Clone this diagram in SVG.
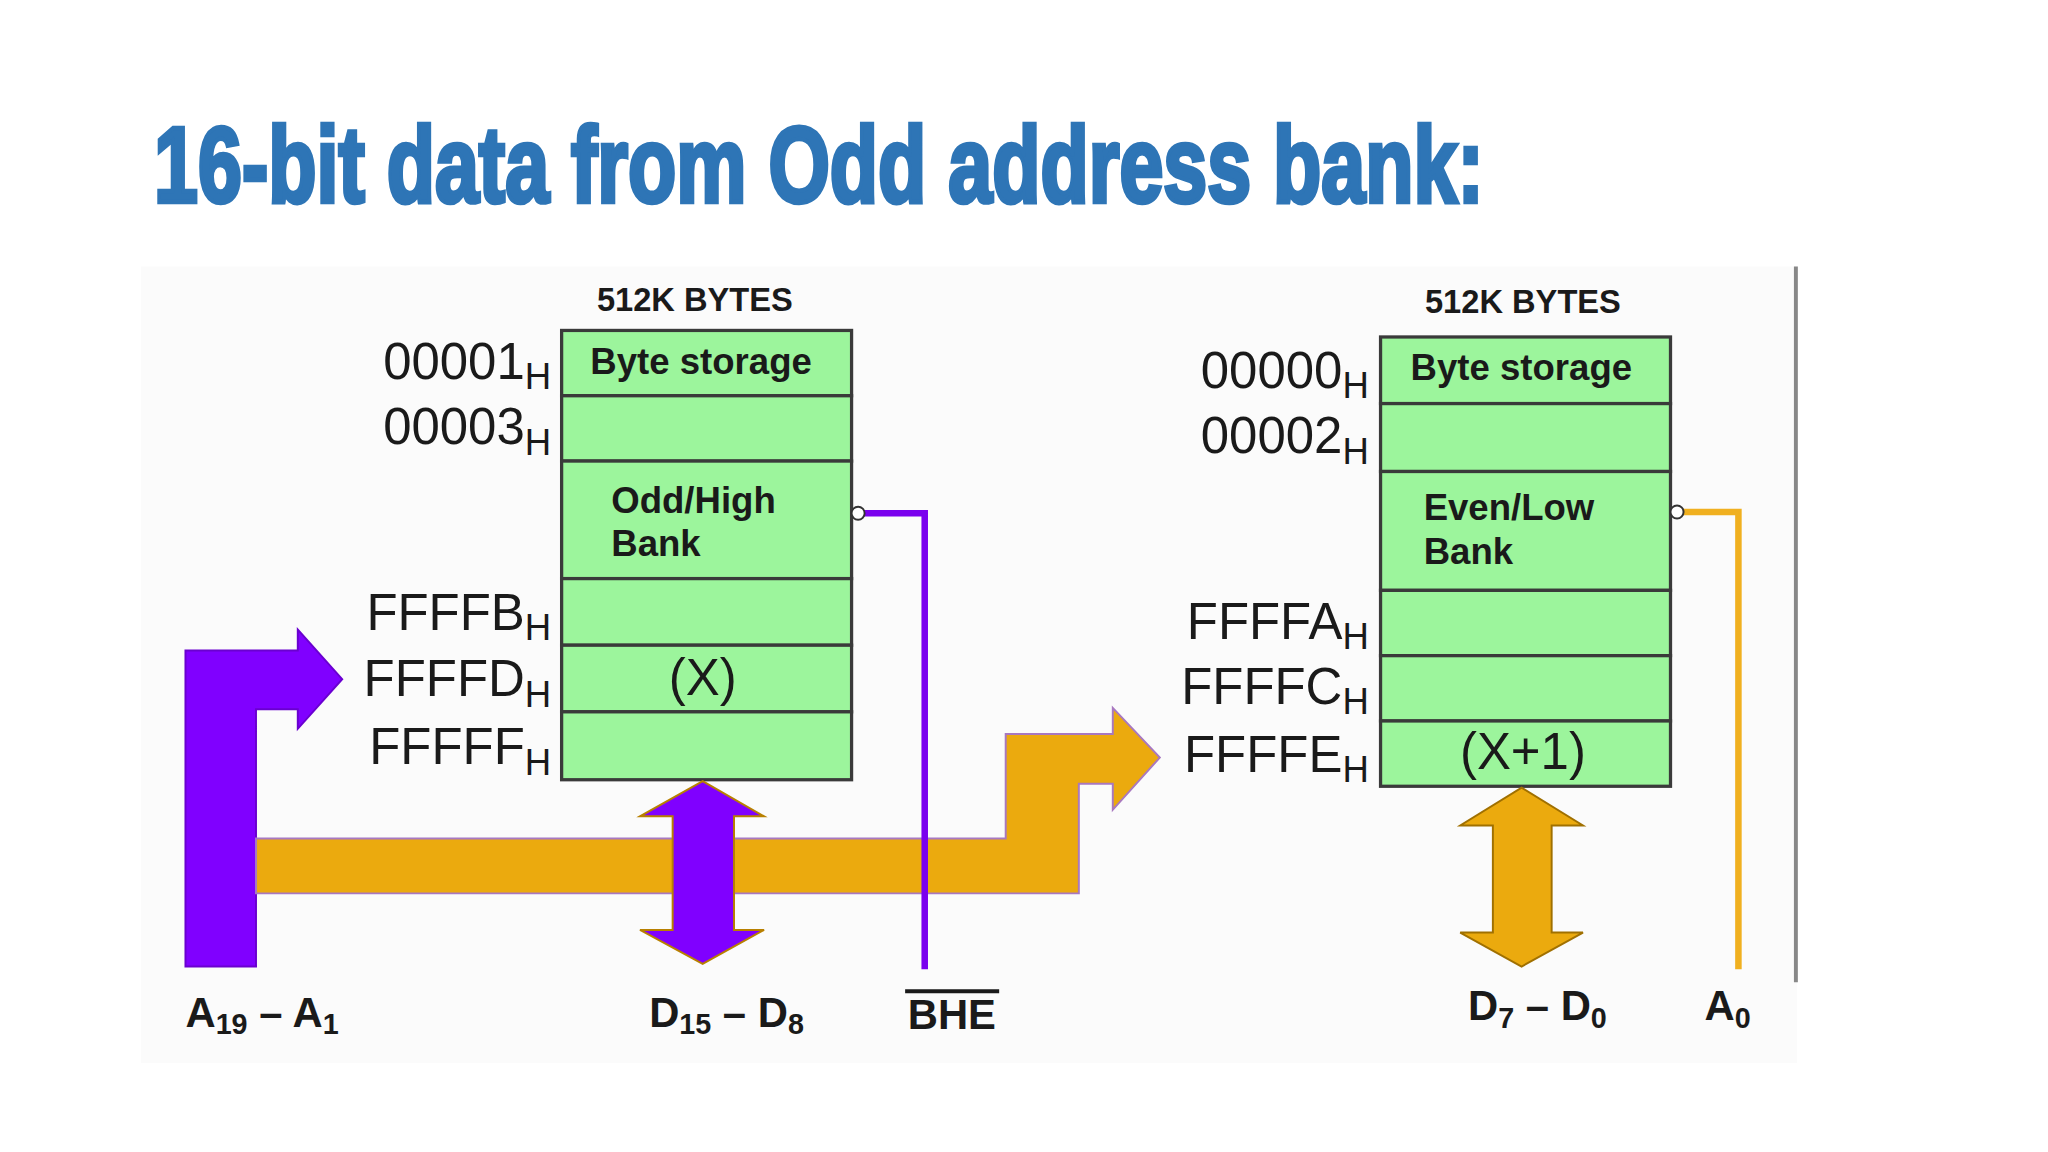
<svg xmlns="http://www.w3.org/2000/svg" width="2048" height="1152" viewBox="0 0 2048 1152">
<style>
.cell{fill:#9cf59c;stroke:#3a3a3a;stroke-width:2.5}
.t{font-family:"Liberation Sans",Arial,sans-serif;fill:#1a1a1a}
.hd{font-size:25px;font-weight:bold}
.ad{font-size:39px}
.ce{font-size:28px;font-weight:bold}
.bl{font-size:32px;font-weight:bold}
</style>
<rect width="2048" height="1152" fill="#ffffff"/>
<g transform="scale(1.3061)">
<text x="118" y="155" font-family="Liberation Sans,Arial,sans-serif" font-weight="bold" font-size="82" fill="#2E75B6" stroke="#2E75B6" stroke-width="3.5" textLength="1018" lengthAdjust="spacingAndGlyphs">16-bit data from Odd address bank:</text>
<rect x="108" y="204" width="1268" height="610" fill="#fbfbfb"/>
<line x1="1375" y1="204" x2="1375" y2="752" stroke="#888" stroke-width="3"/>
<g id="odd-bank">
<rect class="cell" x="430" y="253" width="222" height="50"/>
<rect class="cell" x="430" y="303" width="222" height="50"/>
<rect class="cell" x="430" y="353" width="222" height="90"/>
<rect class="cell" x="430" y="443" width="222" height="51"/>
<rect class="cell" x="430" y="494" width="222" height="51"/>
<rect class="cell" x="430" y="545" width="222" height="52"/>
<text class="t hd" x="532" y="238" text-anchor="middle">512K BYTES</text>
<text class="t ce" x="452" y="286">Byte storage</text>
<text class="t ce" x="468" y="393">Odd/High</text>
<text class="t ce" x="468" y="426">Bank</text>
<text class="t ad" x="538" y="532" text-anchor="middle">(X)</text>
<g class="t ad" text-anchor="end">
<text x="422" y="290">00001<tspan font-size="28" dy="8">H</tspan></text>
<text x="422" y="340">00003<tspan font-size="28" dy="8">H</tspan></text>
<text x="422" y="482">FFFFB<tspan font-size="28" dy="8">H</tspan></text>
<text x="422" y="533">FFFFD<tspan font-size="28" dy="8">H</tspan></text>
<text x="422" y="585">FFFFF<tspan font-size="28" dy="8">H</tspan></text>
</g>
</g>
<g id="even-bank">
<rect class="cell" x="1057" y="258" width="222" height="51"/>
<rect class="cell" x="1057" y="309" width="222" height="52"/>
<rect class="cell" x="1057" y="361" width="222" height="91"/>
<rect class="cell" x="1057" y="452" width="222" height="50"/>
<rect class="cell" x="1057" y="502" width="222" height="50"/>
<rect class="cell" x="1057" y="552" width="222" height="50"/>
<text class="t hd" x="1166" y="240" text-anchor="middle">512K BYTES</text>
<text class="t ce" x="1080" y="291">Byte storage</text>
<text class="t ce" x="1090" y="398">Even/Low</text>
<text class="t ce" x="1090" y="432">Bank</text>
<text class="t ad" x="1166" y="589" text-anchor="middle">(X+1)</text>
<g class="t ad" text-anchor="end">
<text x="1048" y="297">00000<tspan font-size="28" dy="8">H</tspan></text>
<text x="1048" y="347">00002<tspan font-size="28" dy="8">H</tspan></text>
<text x="1048" y="489">FFFFA<tspan font-size="28" dy="8">H</tspan></text>
<text x="1048" y="539">FFFFC<tspan font-size="28" dy="8">H</tspan></text>
<text x="1048" y="591">FFFFE<tspan font-size="28" dy="8">H</tspan></text>
</g>
</g>
<g id="connectors">
<polygon points="142,740 196,740 196,543 228,543 228,558 262,520 228,482 228,498 142,498" fill="#8000ff" stroke="#6a00d0" stroke-width="1.5"/>
<polygon points="196,642 770,642 770,562 852,562 852,542 888,580 852,620 852,600 826,600 826,684 196,684" fill="#EBAA0E" stroke="#a878c0" stroke-width="1.5"/>
<polygon points="538,598 585,625 562,625 562,712 585,712 538,738 490,712 515,712 515,625 490,625" fill="#8000ff" stroke="#b88000" stroke-width="1.5"/>
<polyline points="657,393 708,393 708,742" fill="none" stroke="#7a00ee" stroke-width="5"/>
<circle cx="657" cy="393" r="5" fill="#fff" stroke="#333" stroke-width="1.5"/>
<polyline points="1284,392 1331,392 1331,742" fill="none" stroke="#f0b020" stroke-width="5"/>
<circle cx="1284" cy="392" r="5" fill="#fff" stroke="#333" stroke-width="1.5"/>
<polygon points="1165,603 1212,632 1188,632 1188,714 1212,714 1165,740 1118,714 1143,714 1143,632 1118,632" fill="#EBAA0E" stroke="#a07000" stroke-width="1.5"/>
</g>
<g id="bus-labels" class="t bl">
<text x="142" y="786">A<tspan font-size="22" dy="6">19</tspan><tspan dy="-6"> – A</tspan><tspan font-size="22" dy="6">1</tspan></text>
<text x="497" y="786">D<tspan font-size="22" dy="6">15</tspan><tspan dy="-6"> – D</tspan><tspan font-size="22" dy="6">8</tspan></text>
<text x="695" y="788">BHE</text>
<line x1="693" y1="759" x2="765" y2="759" stroke="#1a1a1a" stroke-width="3"/>
<text x="1124" y="781">D<tspan font-size="22" dy="6">7</tspan><tspan dy="-6"> – D</tspan><tspan font-size="22" dy="6">0</tspan></text>
<text x="1305" y="781">A<tspan font-size="22" dy="6">0</tspan></text>
</g>
</g>
</svg>
